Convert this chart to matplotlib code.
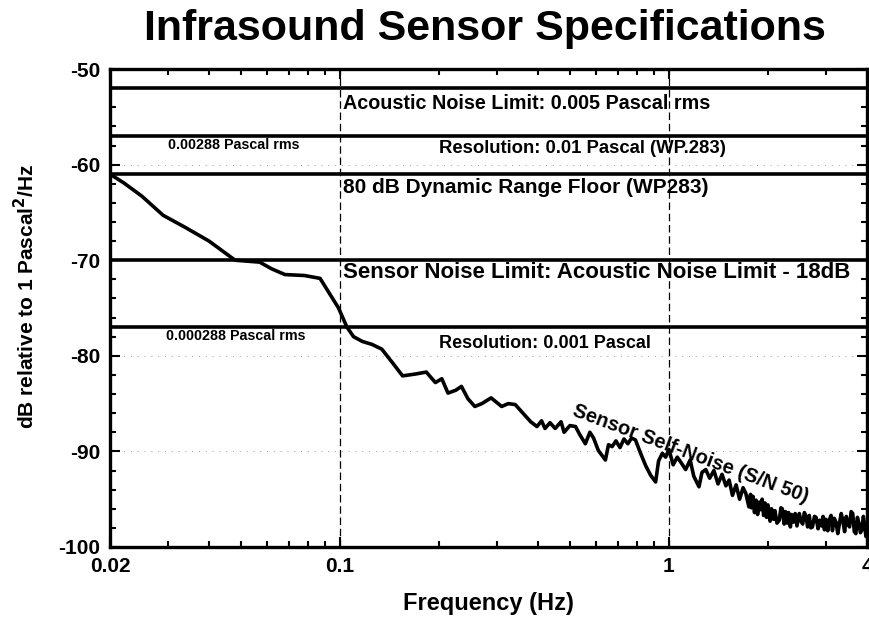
import matplotlib.pyplot as plt
from matplotlib.ticker import FixedLocator, NullFormatter

# Kurve: Eigenrauschen des Sensors
freq = [0.020, 0.022, 0.025, 0.029, 0.034, 0.040, 0.045, 0.048, 0.057, 0.062,
        0.068, 0.078, 0.087, 0.093, 0.099, 0.105, 0.110, 0.117, 0.125, 0.134,
        0.145, 0.155, 0.170, 0.183, 0.195, 0.204, 0.213, 0.225, 0.234, 0.245,
        0.257, 0.270, 0.288, 0.300, 0.310, 0.325, 0.341, 0.36, 0.38, 0.397,
        0.41, 0.42, 0.435, 0.451, 0.47, 0.48, 0.50, 0.52, 0.535, 0.557,
        0.575, 0.59, 0.61, 0.641, 0.655, 0.672, 0.69, 0.71, 0.73, 0.75,
        0.77, 0.791, 0.82, 0.85, 0.88, 0.911, 0.93, 0.955, 0.977, 1.00,
        1.03, 1.06, 1.09, 1.124, 1.16, 1.19, 1.234, 1.26, 1.294, 1.33,
        1.37, 1.41, 1.45, 1.49, 1.524, 1.56, 1.60, 1.64, 1.68, 1.713,
        1.75, 1.77, 1.78, 1.80, 1.82, 1.84, 1.86, 1.881, 1.90, 1.92,
        1.94, 1.96, 1.98, 2.00, 2.03, 2.05, 2.08, 2.10, 2.13, 2.165,
        2.19, 2.21, 2.24, 2.26, 2.29, 2.31, 2.34, 2.36, 2.39, 2.42,
        2.45, 2.49, 2.52, 2.55, 2.58, 2.61, 2.64, 2.67, 2.70, 2.73,
        2.77, 2.80, 2.84, 2.87, 2.91, 2.94, 2.97, 3.00, 3.04, 3.07,
        3.11, 3.14, 3.18, 3.22, 3.26, 3.30, 3.34, 3.38, 3.42, 3.46,
        3.50, 3.54, 3.58, 3.62, 3.66, 3.70, 3.74, 3.78, 3.82, 3.86,
        3.90, 3.93, 3.97, 4.00]
db = [-61.0, -61.9, -63.3, -65.3, -66.6, -68.0, -69.3, -70.0, -70.2, -70.9,
      -71.5, -71.6, -71.9, -73.5, -75.0, -77.0, -78.0, -78.5, -78.8, -79.3,
      -80.8, -82.1, -81.9, -81.7, -82.8, -82.4, -83.9, -83.6, -83.2, -84.5,
      -85.3, -85.0, -84.4, -84.9, -85.3, -85.0, -85.1, -86.0, -86.9, -87.4,
      -86.8, -87.6, -87.0, -87.6, -86.9, -88.0, -87.3, -87.4, -88.2, -89.2,
      -88.0, -88.6, -89.9, -90.9, -89.3, -89.5, -88.9, -89.6, -88.7, -89.2,
      -88.6, -88.8, -90.2, -91.5, -92.5, -93.2, -91.0, -90.2, -90.6, -89.8,
      -91.4, -90.6, -91.2, -91.9, -90.9, -92.6, -93.7, -92.2, -91.9, -92.8,
      -92.0, -93.4, -92.4, -93.6, -93.0, -94.6, -93.5, -95.0, -93.8, -94.4,
      -95.8, -94.5, -95.9, -94.7, -96.4, -95.1, -96.6, -95.3, -96.1, -95.0,
      -96.7, -95.4, -96.9, -95.6, -97.3, -96.0, -97.1, -96.2, -97.5, -97.2,
      -95.9, -96.0, -97.6, -96.3, -97.5, -96.4, -97.9, -96.6, -97.4, -96.5,
      -97.8, -96.5, -97.3, -97.6, -96.4, -96.8, -97.9, -96.7, -98.0, -97.9,
      -96.8, -96.9, -98.1, -97.2, -97.8, -96.8, -98.2, -97.1, -98.3, -97.2,
      -96.7, -98.3, -97.0, -97.4, -98.6, -97.5, -96.5, -97.3, -98.4, -96.8,
      -97.6, -97.9, -96.3, -96.5, -98.4, -98.6, -96.9, -97.5, -98.5, -98.2,
      -96.8, -97.6, -98.9, -98.8]

# horizontale Grenzlinien
limits = [-52, -57, -61, -70, -77]

x_ticks = [0.02, 0.1, 1, 4]
x_ticklabels = ["0.02", "0.1", "1", "4"]
y_ticks = [-100, -90, -80, -70, -60, -50]

plt.rcParams['font.family'] = ['Liberation Sans', 'DejaVu Sans']
plt.rcParams['font.weight'] = 'bold'
plt.rcParams['axes.unicode_minus'] = False

fig = plt.figure(figsize=(8.69, 6.22), dpi=100)
ax = fig.add_axes([0.1266, 0.1206, 0.8711, 0.7684])

ax.set_xscale('log')
ax.set_xlim(0.02, 4)
ax.set_ylim(-100, -50)

# Gitter
ax.axvline(0.1, color='black', lw=0.9, ls=(0, (6, 3)), zorder=1)
ax.axvline(1, color='black', lw=0.9, ls=(0, (6, 3)), zorder=1)
for y in [-60, -70, -80, -90]:
    ax.axhline(y, color='#999999', lw=0.7, ls=(0, (1, 6)), zorder=1)

for lim in limits:
    ax.axhline(lim, color='black', lw=2.6, zorder=2)

ax.plot(freq, db, color='black', lw=2.6, zorder=3)

ax.text(0.1025, -53.6, "Acoustic Noise Limit: 0.005 Pascal rms", fontsize=14.2, va='center', ha='left')
ax.text(0.030, -57.9, "0.00288 Pascal rms", fontsize=10.3, va='center', ha='left')
ax.text(0.200, -58.3, "Resolution: 0.01 Pascal (WP.283)", fontsize=13.3, va='center', ha='left')
ax.text(0.1025, -62.4, "80 dB Dynamic Range Floor (WP283)", fontsize=15, va='center', ha='left')
ax.text(0.1025, -71.3, "Sensor Noise Limit: Acoustic Noise Limit - 18dB", fontsize=16, va='center', ha='left')
ax.text(0.0295, -77.9, "0.000288 Pascal rms", fontsize=10.3, va='center', ha='left')
ax.text(0.200, -78.7, "Resolution: 0.001 Pascal", fontsize=13, va='center', ha='left')
ax.text(1.16, -90.3, "Sensor Self-Noise (S/N 50)", fontsize=14.3, va='center', ha='center',
        rotation=-20.5, rotation_mode='anchor')

ax.xaxis.set_major_locator(FixedLocator(x_ticks))
ax.set_xticklabels(x_ticklabels)
ax.xaxis.set_minor_locator(FixedLocator([0.03, 0.04, 0.05, 0.06, 0.07, 0.08, 0.09,
                                         0.2, 0.3, 0.4, 0.5, 0.6, 0.7, 0.8, 0.9, 2, 3]))
ax.xaxis.set_minor_formatter(NullFormatter())
ax.set_yticks(y_ticks)
ax.set_yticks(range(-100, -49, 2), minor=True)

ax.tick_params(which='both', direction='in', top=True, right=True, width=1.5)
ax.tick_params(which='major', length=7, labelsize=15, pad=7)
ax.tick_params(which='minor', length=4)
for lab in ax.get_xticklabels() + ax.get_yticklabels():
    lab.set_fontweight('bold')

for s in ax.spines.values():
    s.set_linewidth(2.4)

ax.set_xlabel("Frequency (Hz)", fontsize=17, fontweight='bold', labelpad=12)
ax.set_ylabel("dB relative to 1 Pascal$^\\mathbf{2}$/Hz", fontsize=15, fontweight='bold')
ax.yaxis.set_label_coords(-0.095, 0.525)

fig.text(0.558, 0.953, "Infrasound Sensor Specifications", fontsize=31, fontweight='bold',
         ha='center', va='center')

fig.savefig("out.png", dpi=100)
